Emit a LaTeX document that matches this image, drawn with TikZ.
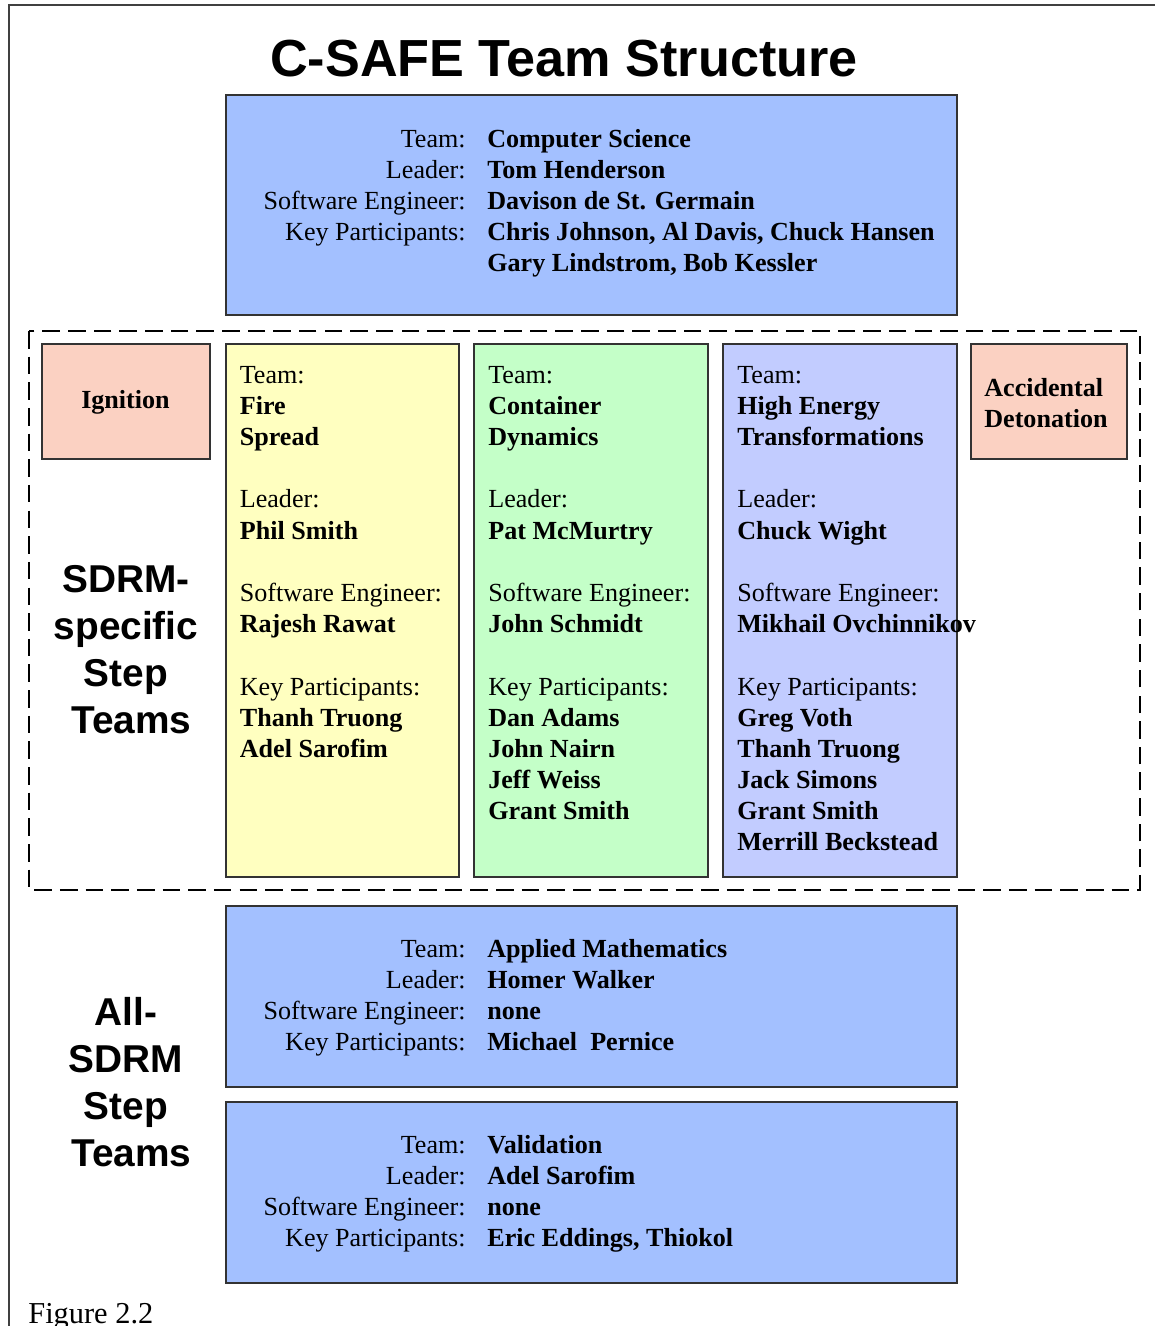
\documentclass[tikz,border=0pt]{standalone}
\usepackage{fontspec}
\setmainfont{Liberation Serif}
\setsansfont{Liberation Sans}
\usetikzlibrary{fit}

\definecolor{csblue}{RGB}{163,192,255}
\definecolor{fireyellow}{RGB}{255,255,192}
\definecolor{contgreen}{RGB}{196,255,200}
\definecolor{helilac}{RGB}{194,204,255}
\definecolor{eventpink}{RGB}{251,209,194}

\tikzset{
  teambox/.style={draw=black!80, line width=0.7pt, inner sep=0pt},
  bodytext/.style={font=\fontsize{14.85}{17.75}\selectfont, inner sep=0pt},
  sidetext/.style={font=\sffamily\bfseries\fontsize{22.1}{26.8}\selectfont, inner sep=0pt, align=center, anchor=north},
}

\begin{document}
\begin{tikzpicture}[x=0.02cm, y=-0.02cm]
  \useasboundingbox (0,0) rectangle (1154,1326);

  % outer frame
  \draw[black!75, line width=0.8pt] (9,1340) -- (9,5) -- (1170,5);

  \node[font=\sffamily\bfseries\fontsize{29.7}{35}\selectfont, anchor=base, inner sep=0pt] (title) at (564,76) {C-SAFE Team Structure};

  % computer science
  \node[teambox, fill=csblue, fit={(226,95) (957,315)}] (csbox) {};
  \node[bodytext, align=right, anchor=north east] (cslabels) at (466,124.9)
    {\strut Team:\\Leader:\\Software Engineer:\\Key Participants:};
  \node[bodytext, align=left, anchor=north west, font=\bfseries\fontsize{14.85}{17.75}\selectfont] (csnames) at (487,124.9)
    {\strut Computer Science\\Tom Henderson\\Davison de St. Germain\\Chris Johnson, Al Davis, Chuck Hansen\\Gary Lindstrom, Bob Kessler};

  % SDRM-specific step teams
  \draw[dashed, dash pattern=on 10pt off 4.6pt, line width=1.2pt] (29,331) rectangle (1140,890);

  \node[teambox, fill=eventpink, fit={(42,344) (210,459)}] (ignbox) {};
  \node[bodytext, font=\bfseries\fontsize{14.85}{17.75}\selectfont, anchor=base] (ign) at (125.5,408.3) {Ignition};

  \node[teambox, fill=eventpink, fit={(971,344) (1127,459)}] (accbox) {};
  \node[bodytext, align=left, anchor=north west, font=\bfseries\fontsize{14.85}{17.75}\selectfont] (acc) at (984,374)
    {\strut Accidental\\Detonation};

  \node[teambox, fill=fireyellow, fit={(226,344) (459,877)}] (firebox) {};
  \node[bodytext, align=left, anchor=north west] (fire) at (239.5,361)
    {\strut Team:\\\textbf{Fire}\\\textbf{Spread}\\[17.75pt]
     Leader:\\\textbf{Phil Smith}\\[17.75pt]
     Software Engineer:\\\textbf{Rajesh Rawat}\\[17.75pt]
     Key Participants:\\\textbf{Thanh Truong}\\\textbf{Adel Sarofim}};

  \node[teambox, fill=contgreen, fit={(474,344) (708,877)}] (contbox) {};
  \node[bodytext, align=left, anchor=north west] (cont) at (488,361)
    {\strut Team:\\\textbf{Container}\\\textbf{Dynamics}\\[17.75pt]
     Leader:\\\textbf{Pat McMurtry}\\[17.75pt]
     Software Engineer:\\\textbf{John Schmidt}\\[17.75pt]
     Key Participants:\\\textbf{Dan Adams}\\\textbf{John Nairn}\\\textbf{Jeff Weiss}\\\textbf{Grant Smith}};

  \node[teambox, fill=helilac, fit={(723,344) (957,877)}] (hebox) {};
  \node[bodytext, align=left, anchor=north west] (he) at (737,361)
    {\strut Team:\\\textbf{High Energy}\\\textbf{Transformations}\\[17.75pt]
     Leader:\\\textbf{Chuck Wight}\\[17.75pt]
     Software Engineer:\\\textbf{Mikhail Ovchinnikov}\\[17.75pt]
     Key Participants:\\\textbf{Greg Voth}\\\textbf{Thanh Truong}\\\textbf{Jack Simons}\\\textbf{Grant Smith}\\\textbf{Merrill Beckstead}};

  \node[sidetext] (sdrm) at (126,559) {\strut SDRM-\\specific\\Step\\\ Teams};

  % all-SDRM step teams
  \node[teambox, fill=csblue, fit={(226,906) (957,1087)}] (ambox) {};
  \node[bodytext, align=right, anchor=north east] (amlabels) at (466,934.9)
    {\strut Team:\\Leader:\\Software Engineer:\\Key Participants:};
  \node[bodytext, align=left, anchor=north west, font=\bfseries\fontsize{14.85}{17.75}\selectfont] (amnames) at (487,934.9)
    {\strut Applied Mathematics\\Homer Walker\\none\\Michael\ \ Pernice};

  \node[teambox, fill=csblue, fit={(226,1102) (957,1283)}] (valbox) {};
  \node[bodytext, align=right, anchor=north east] (vallabels) at (466,1130.9)
    {\strut Team:\\Leader:\\Software Engineer:\\Key Participants:};
  \node[bodytext, align=left, anchor=north west, font=\bfseries\fontsize{14.85}{17.75}\selectfont] (valnames) at (487,1130.9)
    {\strut Validation\\Adel Sarofim\\none\\Eric Eddings, Thiokol};

  \node[sidetext] (allsdrm) at (126,992) {\strut All-\\SDRM\\Step\\\ Teams};

  \node[font=\fontsize{17.3}{20}\selectfont, anchor=base west, inner sep=0pt] (fig) at (28,1323) {Figure 2.2};
\end{tikzpicture}
\end{document}
